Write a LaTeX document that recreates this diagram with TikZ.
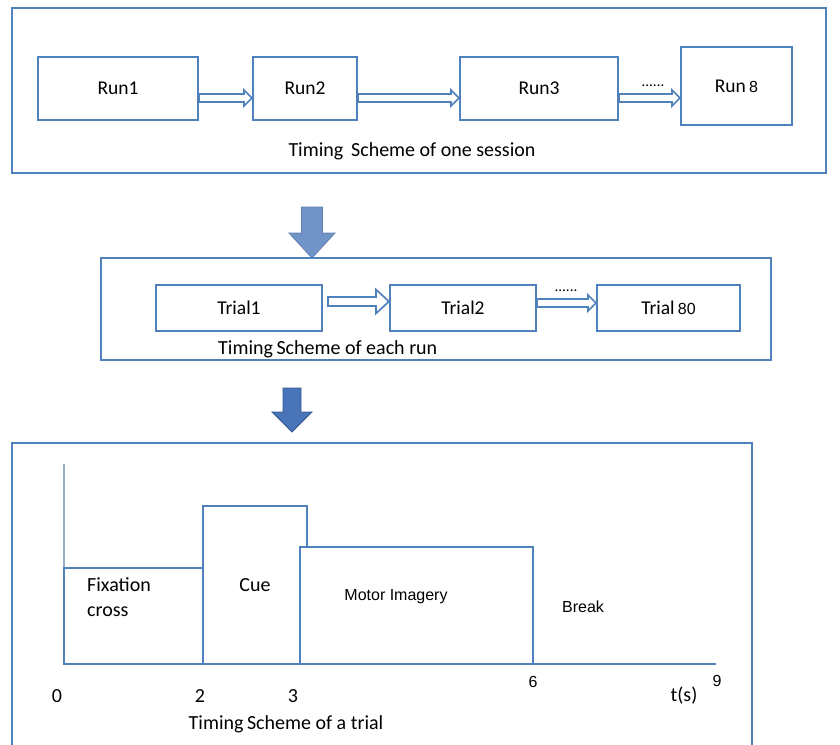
\documentclass[tikz,border=0pt]{standalone}
\usepackage{fontspec}
\setmainfont{Carlito}
\newfontfamily\arialf{Liberation Sans}
\usetikzlibrary{calc}
\definecolor{lineblue}{RGB}{79,129,189}
\definecolor{axisgrey}{RGB}{150,175,198}
\definecolor{arrA}{RGB}{113,148,200}
\definecolor{arrAd}{RGB}{95,128,180}
\definecolor{arrB}{RGB}{74,116,184}
\definecolor{arrBd}{RGB}{55,90,148}
\tikzset{
  frame/.style={draw=lineblue, line width=2.1pt, inner sep=0pt},
  blk/.style={draw=lineblue, line width=2.1pt, fill=white, inner sep=0pt,
    font=\fontsize{19.5}{22}\selectfont},
  arrline/.style={draw=lineblue, line width=1.7pt, fill=white, line join=miter},
  lbl/.style={font=\fontsize{20}{22}\selectfont, inner sep=0pt},
  sml/.style={font=\arialf\fontsize{16}{18}\selectfont, inner sep=0pt},
  dots/.style={font=\fontsize{15}{17}\selectfont, inner sep=0pt},
  bar/.style={draw=lineblue, line width=2.4pt},
}
% #1 from node, #2 to node, #3 y offset, #4 shaft half, #5 head half, #6 head length, #7 start gap
\newcommand{\blockarr}[7]{%
  \draw[arrline] let \p1=($(#1.east)+(0,#3)$), \p2=(#2.west) in
    (\x1+#7pt,\y1+#4pt) -- (\x2-#6pt,\y1+#4pt) -- (\x2-#6pt,\y1+#5pt) -- (\x2,\y1)
    -- (\x2-#6pt,\y1-#5pt) -- (\x2-#6pt,\y1-#4pt) -- (\x1+#7pt,\y1-#4pt) -- cycle;}
% #1 tip coordinate, #2 total length, #3 head length, #4 shaft half, #5 head half, #6 fill, #7 draw
\newcommand{\bigdown}[7]{%
  \filldraw[fill=#6, draw=#7, line width=0.8pt, line join=miter] let \p1=(#1) in
    (\x1-#4pt,\y1+#2pt) -- (\x1+#4pt,\y1+#2pt) -- (\x1+#4pt,\y1+#3pt) -- (\x1+#5pt,\y1+#3pt)
    -- (\x1,\y1) -- (\x1-#5pt,\y1+#3pt) -- (\x1-#4pt,\y1+#3pt) -- cycle;}
\begin{document}
\begin{tikzpicture}[x=1pt,y=-1pt]
\path[use as bounding box] (0,0) rectangle (840,744);
\clip (0,0) rectangle (840,744);
\fill[white] (0,0) rectangle (840,744);

% ---------- session ----------
\node[frame, minimum width=814pt, minimum height=165pt] (sess) at (419,90.5) {};
\node[blk, minimum width=160pt, minimum height=63pt] (r1) at (118,88.5) {Run1};
\node[blk, minimum width=104pt, minimum height=63pt] (r2) at (305,88.5) {Run2};
\node[blk, minimum width=158pt, minimum height=63pt] (r3) at (539,88.5) {Run3};
\node[blk, minimum width=111pt, minimum height=78pt] (r8) at (736.5,86) {Run\,{\arialf\fontsize{16}{18}\selectfont 8}};
\blockarr{r1}{r2}{9.5}{4}{8}{8}{0}
\blockarr{r2}{r3}{9.5}{4}{8}{8}{0}
\blockarr{r3}{r8}{9.5}{4}{8}{8}{0}
\node[dots] (d1) at (653,86) {......};
\node[lbl] (t1) at (412,151) {Timing\, Scheme of one session};

% ---------- arrow 1 ----------
\coordinate (tip1) at (312,258);
\bigdown{tip1}{51}{25}{10.5}{23}{arrA}{arrAd}

% ---------- run ----------
\node[frame, minimum width=670pt, minimum height=102pt] (run) at (436,309) {};
\node[blk, minimum width=166pt, minimum height=46pt] (tr1) at (239,308) {Trial1};
\node[blk, minimum width=146pt, minimum height=46pt] (tr2) at (463,308) {Trial2};
\node[blk, minimum width=143pt, minimum height=46pt] (tr80) at (668.5,308) {Trial\,{\arialf\fontsize{16}{18}\selectfont 80}};
\blockarr{tr1}{tr2}{-6.5}{4.5}{12}{13}{5}
\blockarr{tr2}{tr80}{-5}{4}{8}{8}{0}
\node[dots] (d2) at (566,291) {......};
\node[lbl, anchor=west] (t2) at (218,349) {Timing\kern-1pt\ Scheme of each run};

% ---------- arrow 2 ----------
\coordinate (tip2) at (292,432);
\bigdown{tip2}{44}{20}{9}{20}{arrB}{arrBd}

% ---------- trial ----------
\node[frame, minimum width=740pt, minimum height=330pt] (trial) at (382,608) {};
\draw[axisgrey, line width=1.5pt] (64,464) -- (64,664);
\draw[bar] (64,568) rectangle (203,664);
\draw[bar] (203,506) rectangle (307,664);
\draw[bar, fill=white] (300,547) rectangle (533,664);
\draw[lineblue, line width=2.8pt] (64,664) -- (612,664);
\draw[lineblue, line width=1.3pt] (612,664) -- (716,664);

\node[lbl, anchor=west, align=left, font=\fontsize{20}{25}\selectfont] (fix) at (87,597) {Fixation\\cross};
\node[lbl] (cue) at (255,585) {Cue};
\node[sml] (mi) at (396,597) {Motor Imagery};
\node[sml] (brk) at (583,607) {Break};
\node[lbl] (n0) at (57,696) {0};
\node[lbl] (n2) at (200,696) {2};
\node[lbl] (n3) at (293,696) {3};
\node[sml] (n6) at (533,682) {6};
\node[sml] (n9) at (717,681) {9};
\node[lbl] (ts) at (684,696) {t(s)};
\node[lbl] (t3) at (286,724) {Timing\kern-1pt\ Scheme of a trial};
\end{tikzpicture}
\end{document}
